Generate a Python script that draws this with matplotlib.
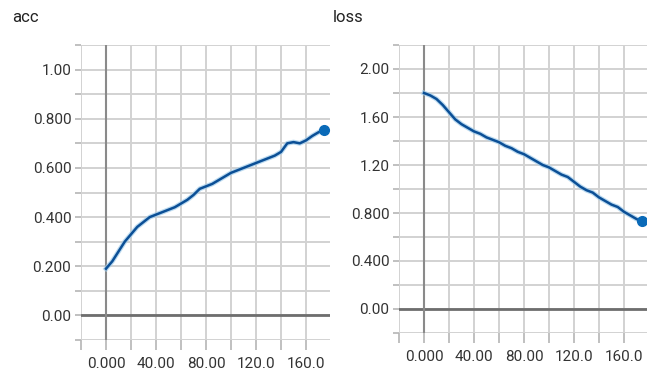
import matplotlib
matplotlib.use("Agg")
import matplotlib.pyplot as plt
from matplotlib.ticker import MultipleLocator, FuncFormatter

plt.rcParams['font.family'] = ['Roboto', 'DejaVu Sans']

# 训练步数
steps = [0, 5, 10, 15, 20, 25, 30, 35, 40, 45, 50, 55, 60, 65, 70, 75, 80, 85,
         90, 95, 100, 105, 110, 115, 120, 125, 130, 135, 140, 145, 150, 155,
         160, 165, 170, 174]

# acc 曲线
acc = [0.19, 0.22, 0.26, 0.30, 0.33, 0.36, 0.38, 0.40, 0.41, 0.42, 0.43, 0.44,
       0.455, 0.47, 0.49, 0.515, 0.525, 0.535, 0.55, 0.565, 0.58, 0.59, 0.60,
       0.61, 0.62, 0.63, 0.64, 0.65, 0.665, 0.70, 0.705, 0.70, 0.712, 0.73,
       0.745, 0.755]

# loss 曲线
loss = [1.80, 1.78, 1.75, 1.70, 1.64, 1.58, 1.54, 1.51, 1.48, 1.46, 1.43, 1.41,
        1.39, 1.36, 1.34, 1.31, 1.29, 1.26, 1.23, 1.20, 1.18, 1.15, 1.12, 1.10,
        1.06, 1.02, 0.99, 0.97, 0.93, 0.90, 0.87, 0.85, 0.81, 0.78, 0.75, 0.73]

acc_labels = ['0.00', '0.200', '0.400', '0.600', '0.800', '1.00']
loss_labels = ['0.00', '0.400', '0.800', '1.20', '1.60', '2.00']
x_labels = ['0.000', '40.00', '80.00', '120.0', '160.0']

line_color = '#0b4f96'
halo_color = '#9fcbea'
dot_color = '#0a6ab8'
grid_color = '#d2d2d2'


def draw_panel(ax, ys, ylim, ymajor, yminor, ylabels, xright):
    ax.set_xlim(-20, xright)
    ax.set_ylim(*ylim)
    for s in ax.spines.values():
        s.set_visible(False)

    ax.xaxis.set_major_locator(MultipleLocator(40))
    ax.xaxis.set_minor_locator(MultipleLocator(20))
    ax.yaxis.set_major_locator(MultipleLocator(ymajor))
    ax.yaxis.set_minor_locator(MultipleLocator(yminor))
    ax.xaxis.set_major_formatter(FuncFormatter(
        lambda v, p: x_labels[int(round(v / 40))] if 0 <= round(v / 40) < len(x_labels) else ''))
    ax.yaxis.set_major_formatter(FuncFormatter(
        lambda v, p: ylabels[int(round(v / ymajor))] if 0 <= round(v / ymajor) < len(ylabels) else ''))

    ax.grid(True, which='both', color=grid_color, lw=1.4)
    ax.set_axisbelow(True)
    ax.tick_params(axis='x', which='both', length=7, width=1.2, color='#b5b5b5',
                   labelsize=11, labelcolor='#333333', pad=5)
    ax.tick_params(axis='y', which='both', length=4, width=1.2, color='#b5b5b5',
                   labelsize=11, labelcolor='#333333', pad=3)

    ax.axhline(0, color='#6e6e6e', lw=2, zorder=1.5)
    ax.axvline(0, color='#8a8a8a', lw=1.5, zorder=1.5)

    ax.plot(steps, ys, color=halo_color, lw=3.5, alpha=0.7, zorder=2)
    ax.plot(steps, ys, color=line_color, lw=1.8, zorder=3)
    ax.plot(steps[-1], ys[-1], 'o', color=dot_color, ms=7, zorder=4, clip_on=False)


fig = plt.figure(figsize=(6.47, 3.73), dpi=100)

ax1 = fig.add_axes([81 / 647, 1 - 340 / 373, 249 / 647, 295 / 373])
draw_panel(ax1, acc, (-0.1, 1.1), 0.2, 0.1, acc_labels, 179.2)

ax2 = fig.add_axes([399 / 647, 1 - 333 / 373, 248 / 647, 288 / 373])
draw_panel(ax2, loss, (-0.2, 2.2), 0.4, 0.2, loss_labels, 178.4)

fig.text(12 / 647, 1 - 18 / 373, 'acc', fontsize=12, va='center', ha='left', color='#222222')
fig.text(333 / 647, 1 - 18 / 373, 'loss', fontsize=12, va='center', ha='left', color='#222222')

fig.savefig('out.png', dpi=100)
